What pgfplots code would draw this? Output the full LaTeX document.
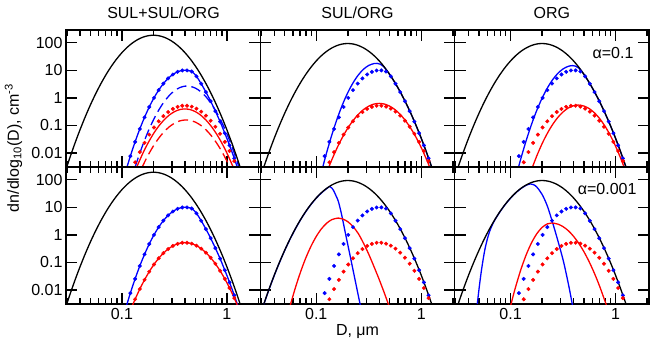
\documentclass[border=0pt]{standalone}
\usepackage{fontspec}
\setmainfont{Liberation Sans}
\usepackage{pgfplots}
\pgfplotsset{compat=1.18}
\usepackage{pgfplotstable}

% total number distribution (two identical modes) and single mode
\pgfplotstableread{
D y
0.02818 0.00162
0.03162 0.00617
0.03548 0.0215
0.03981 0.0692
0.04467 0.2053
0.05012 0.5623
0.05623 1.420
0.06310 3.311
0.07079 7.12
0.07943 14.13
0.08913 25.85
0.1 43.65
0.1122 68.0
0.1259 97.7
0.1413 129.6
0.1585 158.5
0.1778 178.9
0.1995 186.2
0.2239 178.9
0.2512 158.5
0.2818 129.6
0.3162 97.7
0.3548 68.0
0.3981 43.65
0.4467 25.85
0.5012 14.13
0.5623 7.12
0.6310 3.311
0.7079 1.420
0.7943 0.5623
0.8913 0.2053
1.0 0.0692
1.122 0.0215
1.259 0.00617
1.413 0.00162
}\blackA
\pgfplotstableread{
D y
0.02818 0.000812
0.03162 0.00309
0.03548 0.01078
0.03981 0.0347
0.04467 0.1029
0.05012 0.2818
0.05623 0.712
0.06310 1.660
0.07079 3.57
0.07943 7.08
0.08913 12.96
0.1 21.88
0.1122 34.1
0.1259 49.0
0.1413 64.9
0.1585 79.4
0.1778 89.7
0.1995 93.3
0.2239 89.7
0.2512 79.4
0.2818 64.9
0.3162 49.0
0.3548 34.1
0.3981 21.88
0.4467 12.96
0.5012 7.08
0.5623 3.57
0.6310 1.660
0.7079 0.712
0.7943 0.2818
0.8913 0.1029
1.0 0.0347
1.122 0.01078
1.259 0.00309
1.413 0.000812
}\blackB

% parcel-model reference (dots), identical in every panel
\pgfplotstableread{
D y
0.1202 0.00776
0.1334 0.02547
0.1479 0.0748
0.1641 0.197
0.1820 0.469
0.2018 1.00
0.2239 1.91
0.2483 3.29
0.2754 5.08
0.3055 7.05
0.3388 8.79
0.3758 9.84
0.4169 9.89
0.4624 9.02
0.5129 6.03
0.5689 3.24
0.6310 1.62
0.6998 0.759
0.7762 0.331
0.8610 0.138
0.9550 0.0525
1.0593 0.01905
1.1749 0.00646
}\bdots
\pgfplotstableread{
D y
0.1334 0.00465
0.1479 0.01089
0.1641 0.0235
0.1820 0.0466
0.2018 0.0847
0.2239 0.1416
0.2483 0.2178
0.2754 0.3069
0.3055 0.398
0.3388 0.473
0.3758 0.518
0.4169 0.520
0.4624 0.481
0.5129 0.407
0.5689 0.317
0.6310 0.227
0.6998 0.149
0.7762 0.0902
0.8610 0.0500
0.9550 0.0255
1.0593 0.0119
1.1749 0.00513
}\rdots

% parameterisation curves that coincide with the reference
\pgfplotstableread{
D y
0.1084 0.00214
0.1202 0.00776
0.1334 0.02547
0.1479 0.0748
0.1641 0.197
0.1820 0.469
0.2018 1.00
0.2239 1.91
0.2483 3.29
0.2754 5.08
0.3055 7.05
0.3388 8.79
0.3758 9.84
0.4169 9.89
0.4624 9.02
0.5129 6.03
0.5689 3.24
0.6310 1.62
0.6998 0.759
0.7762 0.331
0.8610 0.138
0.9550 0.0525
1.0593 0.01905
1.1749 0.00646
1.3032 0.00204
}\bline
\pgfplotstableread{
D y
0.1202 0.00182
0.1334 0.00465
0.1479 0.01089
0.1641 0.0235
0.1820 0.0466
0.2018 0.0847
0.2239 0.1416
0.2483 0.2178
0.2754 0.3069
0.3055 0.398
0.3388 0.473
0.3758 0.518
0.4169 0.520
0.4624 0.481
0.5129 0.407
0.5689 0.317
0.6310 0.227
0.6998 0.149
0.7762 0.0902
0.8610 0.0500
0.9550 0.0255
1.0593 0.0119
1.1749 0.00513
1.3032 0.00203
}\rline

% SUL+SUL/ORG, alpha = 0.1
\pgfplotstableread{
D y
0.1334 0.00309
0.1413 0.00601
0.1585 0.02056
0.1778 0.0612
0.1995 0.159
0.2239 0.359
0.2512 0.706
0.2818 1.21
0.3162 1.81
0.3548 2.35
0.3981 2.66
0.4467 2.62
0.5012 2.25
0.5623 1.69
0.6310 1.10
0.7079 0.624
0.7943 0.308
0.8913 0.133
1.0 0.0498
1.122 0.01626
1.259 0.00462
1.318 0.00269
}\pAbdash
\pgfplotstableread{
D y
0.1380 0.00305
0.1413 0.00376
0.1585 0.0100
0.1778 0.0237
0.1995 0.0501
0.2239 0.0944
0.2512 0.158
0.2818 0.237
0.3162 0.316
0.3548 0.376
0.3981 0.398
0.4467 0.376
0.5012 0.316
0.5623 0.237
0.6310 0.158
0.7079 0.0944
0.7943 0.0501
0.8913 0.0237
1.0 0.0100
1.122 0.00376
1.148 0.00305
}\pArsol
\pgfplotstableread{
D y
0.1549 0.00296
0.1585 0.00357
0.1778 0.00851
0.1995 0.0181
0.2239 0.0345
0.2512 0.0586
0.2818 0.0889
0.3162 0.1205
0.3548 0.1462
0.3981 0.158
0.4467 0.1528
0.5012 0.132
0.5623 0.1019
0.6310 0.0701
0.7079 0.0432
0.7943 0.0238
0.8913 0.01167
1.0 0.00512
1.0715 0.00296
}\pArdash

% SUL/ORG, alpha = 0.1
\pgfplotstableread{
D y
0.1148 0.00291
0.1259 0.01079
0.1413 0.0479
0.1585 0.1795
0.1778 0.570
0.1995 1.535
0.2239 3.48
0.2512 6.70
0.2818 10.9
0.3162 15.0
0.3548 17.5
0.3802 17.8
0.4074 16.6
0.4365 13.8
0.4677 10.0
0.5012 6.92
0.5623 3.51
0.6310 1.62
0.7079 0.700
0.7943 0.279
0.8913 0.1012
1.0 0.0343
1.122 0.01059
1.259 0.00305
1.318 0.00183
}\pBbsol
\pgfplotstableread{
D y
0.1318 0.00313
0.1413 0.00596
0.1585 0.01585
0.1778 0.0376
0.1995 0.0794
0.2239 0.1496
0.2512 0.251
0.2818 0.376
0.3162 0.501
0.3548 0.596
0.3981 0.631
0.4467 0.596
0.5012 0.501
0.5623 0.376
0.6310 0.251
0.7079 0.1496
0.7943 0.0794
0.8913 0.0376
1.0 0.01585
1.122 0.00596
1.202 0.00313
}\pBrsol

% ORG, alpha = 0.1
\pgfplotstableread{
D y
0.1175 0.00256
0.1259 0.00671
0.1413 0.02944
0.1585 0.1107
0.1778 0.354
0.1995 0.968
0.2239 2.26
0.2512 4.52
0.2818 7.69
0.3162 11.2
0.3548 13.9
0.3890 14.8
0.4169 14.1
0.4467 12.0
0.4786 8.91
0.5129 6.10
0.5623 3.51
0.6310 1.62
0.7079 0.700
0.7943 0.279
0.8913 0.1012
1.0 0.0343
1.122 0.01059
1.259 0.00305
1.318 0.00183
}\pCbsol
\pgfplotstableread{
D y
0.1622 0.00321
0.1778 0.00792
0.1995 0.0217
0.2239 0.0516
0.2512 0.1076
0.2818 0.1954
0.3162 0.310
0.3548 0.430
0.3981 0.520
0.4416 0.550
0.5012 0.506
0.5623 0.407
0.6310 0.286
0.7079 0.1754
0.7943 0.0940
0.8913 0.0439
1.0 0.0179
1.122 0.00638
1.202 0.00321
}\pCrsol

% SUL/ORG, alpha = 0.001
\pgfplotstableread{
D y
0.03162 0.00302
0.03548 0.01054
0.03981 0.0339
0.04467 0.1006
0.05012 0.2754
0.05623 0.696
0.06310 1.62
0.07079 3.49
0.07943 6.92
0.08913 12.7
0.1 21.4
0.1122 33.3
0.1259 47.9
0.1349 56.2
0.1413 49.0
0.1479 37.2
0.1549 25.1
0.1622 16.6
0.1738 5.75
0.1905 1.047
0.2089 0.195
0.2291 0.0355
0.2512 0.00646
0.2630 0.00282
}\pEbsol
\pgfplotstableread{
D y
0.0562 0.0026
0.0631 0.0118
0.0708 0.0450
0.0794 0.144
0.0891 0.388
0.1 0.879
0.1122 1.67
0.1259 2.67
0.1413 3.60
0.1622 4.07
0.1778 3.80
0.1995 3.02
0.2239 2.00
0.2512 1.122
0.2818 0.501
0.3162 0.1995
0.3548 0.0708
0.3981 0.0240
0.4467 0.00759
0.5012 0.00224
}\pErsol

% ORG, alpha = 0.001
\pgfplotstableread{
D y
0.0482 0.00316
0.0501 0.0112
0.0525 0.0447
0.0550 0.141
0.0575 0.355
0.0603 0.741
0.0631 1.318
0.0661 2.04
0.0692 2.95
0.0724 3.98
0.0794 6.92
0.0891 12.7
0.1 21.4
0.1122 33.5
0.1259 47.9
0.1413 63.1
0.1549 70.0
0.1660 65.6
0.1778 54.1
0.1995 29.5
0.2239 11.2
0.2512 2.82
0.2818 0.631
0.3162 0.1259
0.3388 0.0398
0.3631 0.01122
0.3802 0.00447
0.3890 0.00282
}\pFbsol
\pgfplotstableread{
D y
0.1 0.00263
0.1047 0.00525
0.1122 0.01384
0.1259 0.0582
0.1413 0.195
0.1585 0.519
0.1778 1.10
0.1995 1.86
0.2239 2.50
0.2455 2.69
0.2818 2.46
0.3162 1.99
0.3548 1.42
0.3981 0.889
0.4467 0.493
0.5012 0.2415
0.5623 0.104
0.6310 0.0396
0.7079 0.0133
0.7943 0.00394
0.8318 0.00233
}\pFrsol

\pgfplotsset{
  sizeBox/.style={
    scale only axis, width=194.3pt, height=137pt,
    anchor=north west,
    xmin=0.0293, xmax=2.08, ymin=0.00313, ymax=288,
    xtick={0.1,1}, ytick={0.01,0.1,1,10,100},
    minor xtick={0.03,0.04,0.05,0.06,0.07,0.08,0.09,0.2,0.3,0.4,0.5,0.6,0.7,0.8,0.9,2},
    yminorticks=false,
    xticklabels={}, yticklabels={},
    tick align=inside,
    major tick length=11pt, minor tick length=6pt,
    tick style={black, line width=1.4pt},
    axis line style={line width=1.6pt},
    tick label style={font=\fontsize{16}{19}\selectfont},
    xticklabel style={yshift=-1pt},
  },
  withXlabels/.style={xticklabels={0.1,1}},
  withYlabels/.style={yticklabels={0.01,0.1,1,10,100}},
  refDots/.style={only marks, mark=*, mark size=1.8pt},
  fitLine/.style={line width=1.3pt, smooth, no markers},
  fitDash/.style={line width=1.3pt, smooth, no markers, dash pattern=on 10pt off 5pt},
}

\begin{document}
\begin{tikzpicture}[font=\fontsize{16}{19}\selectfont]
\path[use as bounding box] (0,0) rectangle (655pt,-343pt);

% ---------- top row: alpha = 0.1 ----------
\begin{loglogaxis}[sizeBox, withYlabels, at={(66pt,-30pt)}]
  \addplot[blue, refDots] table {\bdots};
  \addplot[red, refDots] table {\rdots};
  \addplot[blue, fitLine] table {\bline};
  \addplot[blue, fitDash] table {\pAbdash};
  \addplot[red, fitLine] table {\pArsol};
  \addplot[red, fitDash] table {\pArdash};
  \addplot[black, fitLine] table {\blackA};
\end{loglogaxis}
\begin{loglogaxis}[sizeBox, at={(260.3pt,-30pt)}]
  \addplot[blue, refDots] table {\bdots};
  \addplot[red, refDots] table {\rdots};
  \addplot[blue, fitLine] table {\pBbsol};
  \addplot[red, fitLine] table {\pBrsol};
  \addplot[black, fitLine] table {\blackB};
\end{loglogaxis}
\begin{loglogaxis}[sizeBox, at={(454.6pt,-30pt)}]
  \addplot[blue, refDots] table {\bdots};
  \addplot[red, refDots] table {\rdots};
  \addplot[blue, fitLine] table {\pCbsol};
  \addplot[red, fitLine] table {\pCrsol};
  \addplot[black, fitLine] table {\blackB};
\end{loglogaxis}

% ---------- bottom row: alpha = 0.001 ----------
\begin{loglogaxis}[sizeBox, withXlabels, withYlabels, at={(66pt,-167pt)}]
  \addplot[blue, refDots] table {\bdots};
  \addplot[red, refDots] table {\rdots};
  \addplot[blue, fitLine] table {\bline};
  \addplot[red, fitLine] table {\rline};
  \addplot[black, fitLine] table {\blackA};
\end{loglogaxis}
\begin{loglogaxis}[sizeBox, withXlabels, at={(260.3pt,-167pt)}]
  \addplot[blue, refDots] table {\bdots};
  \addplot[red, refDots] table {\rdots};
  \addplot[blue, fitLine] table {\pEbsol};
  \addplot[red, fitLine] table {\pErsol};
  \addplot[black, fitLine] table {\blackB};
\end{loglogaxis}
\begin{loglogaxis}[sizeBox, withXlabels, at={(454.6pt,-167pt)}]
  \addplot[blue, refDots] table {\bdots};
  \addplot[red, refDots] table {\rdots};
  \addplot[blue, fitLine] table {\pFbsol};
  \addplot[red, fitLine] table {\pFrsol};
  \addplot[black, fitLine] table {\blackB};
\end{loglogaxis}

% column titles, labels and regime annotations
\node at (163.5pt,-12.5pt) {SUL+SUL/ORG};
\node at (357.5pt,-12.5pt) {SUL/ORG};
\node at (551.8pt,-12.5pt) {ORG};
\node[anchor=east] at (637pt,-52.5pt) {α=0.1};
\node[anchor=east] at (640pt,-189pt) {α=0.001};
\node at (357.5pt,-332pt) {D, μm};
\node[rotate=90] at (13.5pt,-148pt) {dn/dlog\textsubscript{10}(D), cm\textsuperscript{-3}};
\end{tikzpicture}
\end{document}
